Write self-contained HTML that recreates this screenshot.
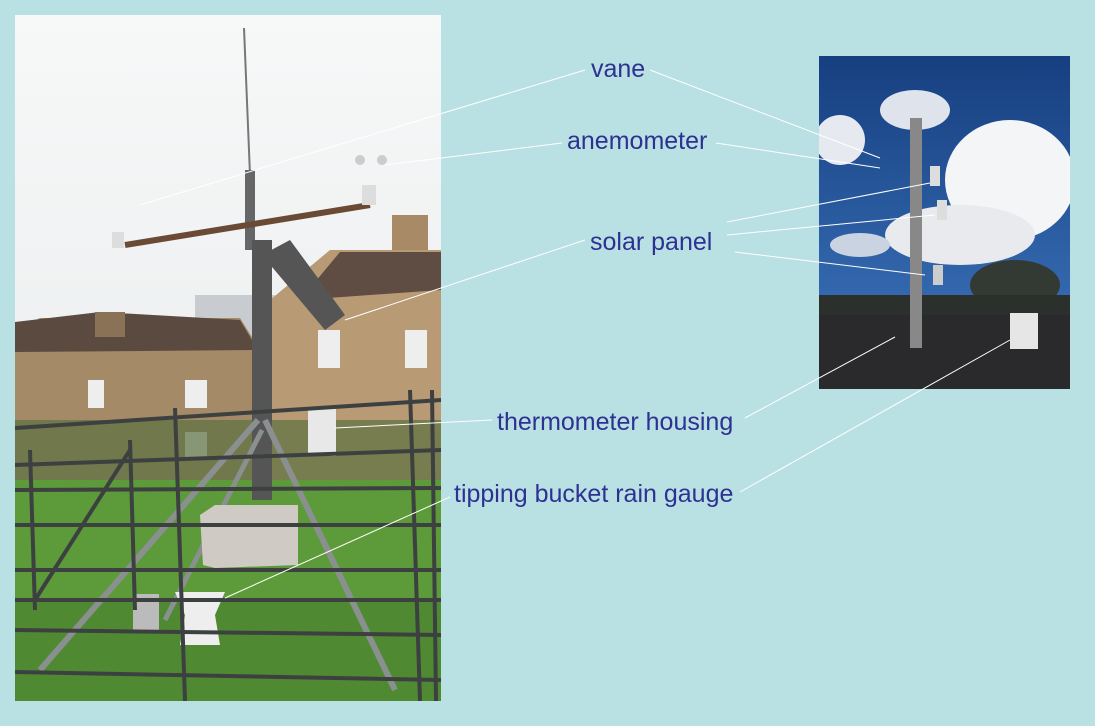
<!DOCTYPE html>
<html><head><meta charset="utf-8"><style>
html,body{margin:0;padding:0;background:#b9e0e2;}
svg{display:block}
text{font-family:"Liberation Sans",Arial,sans-serif;font-size:25px;fill:#2e3192}
</style></head><body>
<svg width="1095" height="726" viewBox="0 0 1095 726" xmlns="http://www.w3.org/2000/svg">
<rect width="1095" height="726" fill="#b9e0e2"/>
<defs>
<linearGradient id="sky" x1="0" y1="0" x2="0" y2="1"><stop offset="0" stop-color="#f7f8f8"/><stop offset="1" stop-color="#e4e8ea"/></linearGradient>
<linearGradient id="bsky" x1="0" y1="0" x2="0" y2="1"><stop offset="0" stop-color="#163f80"/><stop offset="1" stop-color="#3f78c0"/></linearGradient>
<clipPath id="lc"><rect x="15" y="15" width="426" height="686"/></clipPath>
<clipPath id="rc"><rect x="819" y="56" width="251" height="333"/></clipPath>
</defs>
<g clip-path="url(#lc)">
<rect x="15" y="15" width="426" height="686" fill="url(#sky)"/>
<rect x="195" y="295" width="80" height="50" fill="#c8ccd0"/>
<polygon points="15,330 40,318 240,318 260,350 260,480 15,480" fill="#a48a67"/>
<polygon points="15,322 100,312 240,320 258,350 15,352" fill="#5a4a40"/>
<polygon points="270,300 330,250 441,250 441,480 270,480" fill="#b89a74"/>
<polygon points="300,300 340,252 441,252 441,290 300,300" fill="#5f4c42"/>
<rect x="392" y="215" width="36" height="35" fill="#a88a66"/>
<rect x="95" y="312" width="30" height="25" fill="#8a7256"/>
<rect x="318" y="330" width="22" height="38" fill="#eee"/><rect x="405" y="330" width="22" height="38" fill="#eee"/>
<rect x="185" y="380" width="22" height="28" fill="#eee"/><rect x="88" y="380" width="16" height="28" fill="#eee"/>
<rect x="185" y="432" width="22" height="28" fill="#eee"/>
<rect x="15" y="420" width="426" height="80" fill="#5b7040" opacity="0.7"/>
<rect x="15" y="480" width="426" height="221" fill="#5d9a3a"/>
<rect x="15" y="600" width="426" height="101" fill="#4f8a32"/>
<line x1="244" y1="28" x2="250" y2="175" stroke="#777" stroke-width="2"/>
<rect x="245" y="170" width="10" height="80" fill="#666"/>
<rect x="252" y="240" width="20" height="260" fill="#555"/>
<line x1="125" y1="245" x2="370" y2="205" stroke="#6a4a35" stroke-width="6"/>
<rect x="112" y="232" width="12" height="16" fill="#ddd"/><rect x="362" y="185" width="14" height="20" fill="#ddd"/>
<circle cx="360" cy="160" r="5" fill="#ccc"/><circle cx="382" cy="160" r="5" fill="#ccc"/>
<polygon points="262,255 290,240 345,315 325,330" fill="#555"/>
<line x1="258" y1="420" x2="40" y2="670" stroke="#8a9090" stroke-width="6"/>
<line x1="265" y1="420" x2="395" y2="690" stroke="#8a9090" stroke-width="6"/>
<line x1="262" y1="430" x2="165" y2="620" stroke="#8a9090" stroke-width="5"/>
<rect x="308" y="408" width="28" height="48" fill="#e8e8e8"/>
<polygon points="200,515 215,505 298,505 298,565 215,568 203,565" fill="#cfcbc4"/>
<rect x="133" y="594" width="26" height="36" fill="#bbb"/>
<polygon points="175,592 225,592 215,615 220,645 180,645 185,615" fill="#eee"/>
<g stroke="#3c4040" stroke-width="4" fill="none">
<line x1="15" y1="428" x2="441" y2="400"/><line x1="15" y1="465" x2="441" y2="450"/>
<line x1="15" y1="490" x2="441" y2="488"/><line x1="15" y1="525" x2="441" y2="525"/>
<line x1="15" y1="570" x2="441" y2="570"/><line x1="15" y1="600" x2="441" y2="600"/>
<line x1="15" y1="630" x2="441" y2="635"/><line x1="15" y1="672" x2="441" y2="680"/>
<line x1="175" y1="408" x2="185" y2="701"/><line x1="410" y1="390" x2="420" y2="701"/>
<line x1="432" y1="390" x2="436" y2="701"/><line x1="130" y1="440" x2="135" y2="610"/>
<line x1="30" y1="450" x2="35" y2="610"/><line x1="35" y1="600" x2="130" y2="450"/>
</g>
</g>
<g clip-path="url(#rc)">
<rect x="819" y="56" width="251" height="333" fill="url(#bsky)"/>
<ellipse cx="1010" cy="180" rx="65" ry="60" fill="#f4f5f7"/>
<ellipse cx="960" cy="235" rx="75" ry="30" fill="#e8eaee"/>
<ellipse cx="915" cy="110" rx="35" ry="20" fill="#dfe4ec"/>
<ellipse cx="840" cy="140" rx="25" ry="25" fill="#e6e9ef"/>
<ellipse cx="860" cy="245" rx="30" ry="12" fill="#c9d3e2"/>
<ellipse cx="1015" cy="285" rx="45" ry="25" fill="#333a34"/>
<rect x="819" y="295" width="251" height="20" fill="#2c302c"/>
<rect x="819" y="315" width="251" height="74" fill="#2a2a2d"/>
<rect x="910" y="118" width="12" height="230" fill="#888"/>
<rect x="930" y="166" width="10" height="20" fill="#ddd"/><rect x="937" y="200" width="10" height="20" fill="#ddd"/>
<rect x="933" y="265" width="10" height="20" fill="#ccc"/>
<rect x="1010" y="313" width="28" height="36" fill="#e6e6e6"/>
</g>
<g stroke="#ffffff" stroke-width="1">
<line x1="585" y1="70" x2="140" y2="205"/><line x1="650" y1="70" x2="880" y2="158"/>
<line x1="562" y1="143" x2="385" y2="165"/><line x1="716" y1="143" x2="880" y2="168"/>
<line x1="585" y1="240" x2="345" y2="320"/><line x1="727" y1="222" x2="930" y2="183"/>
<line x1="727" y1="235" x2="935" y2="215"/><line x1="735" y1="252" x2="925" y2="275"/>
<line x1="492" y1="420" x2="335" y2="428"/><line x1="745" y1="418" x2="895" y2="337"/>
<line x1="450" y1="497" x2="225" y2="598"/><line x1="740" y1="492" x2="1010" y2="340"/>
</g>
<text x="591" y="77">vane</text>
<text x="567" y="149">anemometer</text>
<text x="590" y="250">solar panel</text>
<text x="497" y="430">thermometer housing</text>
<text x="454" y="502">tipping bucket rain gauge</text>
</svg>
</body></html>
